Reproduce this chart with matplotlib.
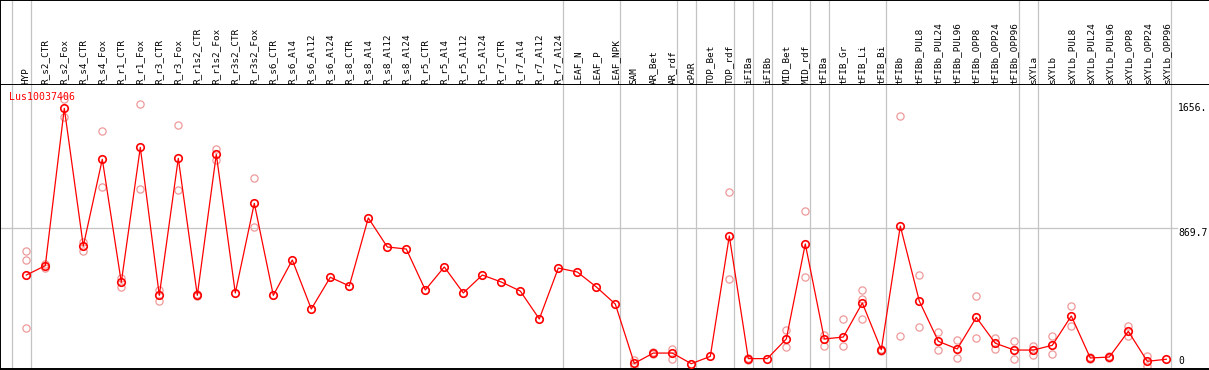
import numpy as np
import matplotlib
matplotlib.use('Agg')
import matplotlib.pyplot as plt

# sample names along the top
categories = ['HYP',
              'R_s2_CTR', 'R_s2_Fox', 'R_s4_CTR', 'R_s4_Fox', 'R_r1_CTR', 'R_r1_Fox',
              'R_r3_CTR', 'R_r3_Fox', 'R_r1s2_CTR', 'R_r1s2_Fox', 'R_r3s2_CTR', 'R_r3s2_Fox',
              'R_s6_CTR', 'R_s6_Al4', 'R_s6_Al12', 'R_s6_Al24',
              'R_s8_CTR', 'R_s8_Al4', 'R_s8_Al12', 'R_s8_Al24',
              'R_r5_CTR', 'R_r5_Al4', 'R_r5_Al12', 'R_r5_Al24',
              'R_r7_CTR', 'R_r7_Al4', 'R_r7_Al12', 'R_r7_Al24',
              'LEAF_N', 'LEAF_P', 'LEAF_NPK',
              'SAM', 'AR_Bet', 'AR_rdf', 'cPAR', 'TOP_Bet', 'TOP_rdf', 'iFIBa', 'iFIBb',
              'MID_Bet', 'MID_rdf', 'tFIBa', 'tFIB_Gr', 'tFIB_Li', 'tFIB_Bi', 'tFIBb',
              'tFIBb_PUL8', 'tFIBb_PUL24', 'tFIBb_PUL96', 'tFIBb_OPP8', 'tFIBb_OPP24', 'tFIBb_OPP96',
              'sXYLa', 'sXYLb',
              'sXYLb_PUL8', 'sXYLb_PUL24', 'sXYLb_PUL96', 'sXYLb_OPP8', 'sXYLb_OPP24', 'sXYLb_OPP96']

# mean expression (joined red line)
mean_vals = [571, 630, 1622, 754, 1301, 525, 1376, 443, 1307, 443, 1332, 458, 1023,
             443, 666, 357, 557, 502, 931, 748, 735, 477, 622, 458, 571, 527, 470, 294, 615,
             590, 496, 388,
             14, 79, 79, 12, 58, 817, 44, 44, 168, 767, 168, 180, 395, 100, 880,
             407, 153, 105, 304, 141, 98,
             98, 128,
             313, 48, 54, 216, 27, 40]

nan = np.nan
# individual replicates (pale circles)
rep_a = [721, 640, 1681, 781, 1477, 550, 1649, 477, 1515, 450, 1366, nan, 1181,
         nan, nan, nan, nan, nan, nan, nan, nan, nan, nan, nan, nan, nan, nan, nan, nan,
         nan, nan, nan,
         35, 85, 107, nan, nan, 1092, 50, nan, 224, 973, 193, 294, 475, 107, 1574,
         569, 210, 159, 439, 174, 153,
         126, 185,
         374, 55, 62, 252, 60, nan]
rep_b = [664, 613, 1569, 725, 1124, 498, 1111, 409, 1105, 437, 1294, nan, 874,
         nan, nan, nan, nan, nan, nan, nan, nan, nan, nan, nan, nan, nan, nan, nan, nan,
         nan, nan, nan,
         0, 73, 44, nan, nan, 544, 38, nan, 115, 557, 122, 124, 420, 92, 187,
         241, 96, 46, 172, 103, 40,
         69, 71,
         248, 40, 46, 185, 0, nan]
rep_c = [237] + [nan] * 43 + [294] + [nan] * 16

# group separators sit just right of these sample indices
group_breaks = [-1, 0, 28, 31, 34, 35, 37, 38, 39, 41, 42, 45, 52, 53, 60]

grid_value = 869.7
axis_marks = [(1656, '1656.', 'top'), (869.7, '869.7', 'top'), (0, '0', 'bottom')]
title = 'Lus10037406'

W, H = 1209, 370
fig = plt.figure(figsize=(W / 100, H / 100), dpi=100)
mono = 'DejaVu Sans Mono'
grey = '#c4c4c4'


def box(top, bottom):
    return [0, (H - bottom) / H, 1, (bottom - top) / H]


head = fig.add_axes(box(0, 85))
ax = fig.add_axes(box(85, 369))

# pixel layout of the reference
x0_px, step_px = 26.3, 19.0
xlim = (-x0_px / step_px, (W - x0_px) / step_px)
y0_px, scale = 365.6, 0.1586
ylim = ((y0_px - 369) / scale, (y0_px - 85) / scale)

x = np.arange(len(categories))

# header with rotated names
head.set_xlim(xlim)
head.set_ylim(85, 0)
for i, name in enumerate(categories):
    head.text(i, 84, name, rotation=90, ha='center', va='bottom',
              fontsize=6.7, family=mono, color='black')
head.set_xticks([])
head.set_yticks([])
for s in ['right']:
    head.spines[s].set_visible(False)
for s in ['top', 'bottom', 'left']:
    head.spines[s].set_linewidth(1.4)

# main panel
ax.set_xlim(xlim)
ax.set_ylim(ylim)
ax.set_xticks([])
ax.set_yticks([])
ax.spines['right'].set_visible(False)
ax.spines['top'].set_visible(False)
ax.spines['bottom'].set_linewidth(1.4)
ax.spines['left'].set_linewidth(1.4)

for b in group_breaks:
    head.axvline(b + 0.23, color=grey, lw=0.9, zorder=0)
    ax.axvline(b + 0.23, color=grey, lw=0.9, zorder=0)
ax.axhline(grid_value, xmax=1177 / W, color=grey, lw=0.9, zorder=0)

pale = '#ee9a9a'
for reps in (rep_a, rep_b, rep_c):
    ax.plot(x, reps, ls='none', marker='o', ms=5.2, mfc='none', mec=pale, mew=0.9, zorder=2)

ax.plot(x, mean_vals, color='red', lw=0.9, zorder=3)
ax.plot(x, mean_vals, ls='none', marker='o', ms=5.4, mfc='none', mec='red', mew=1.2, zorder=4)

for val, lab, va in axis_marks:
    ax.text((1178 - x0_px) / step_px, val, lab, ha='left', va=va,
            fontsize=7, family=mono, color='black')

ax.text(9 / W, (369 - 92) / 284, title, transform=ax.transAxes, ha='left', va='top',
        fontsize=7.1, family=mono, color='red', zorder=5)

fig.savefig('out.png', dpi=100)
